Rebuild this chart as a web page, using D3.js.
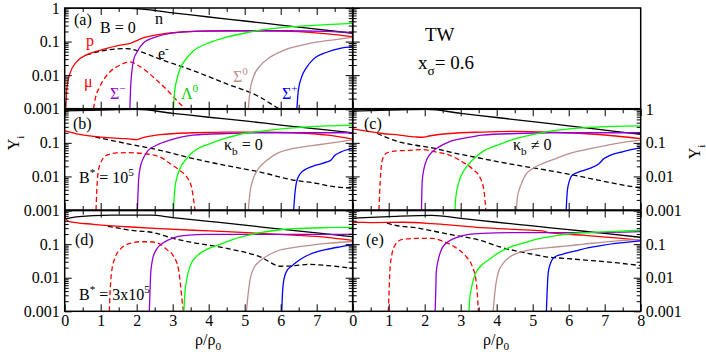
<!DOCTYPE html>
<html>
<head>
<meta charset="utf-8">
<script src="https://cdn.jsdelivr.net/npm/d3@7"></script>
<style>
  body { margin:0; background:#fff; }
  svg, svg text, svg tspan { font-family: "Liberation Serif", "DejaVu Serif", serif !important; }
  .curve { fill:none; stroke-width:1.3px; }
  .tick line { stroke:#000; stroke-width:1px; }
</style>
</head>
<body>
<script>
// tick values
var xMajor = [0,1,2,3,4,5,6,7,8];
var xMinor = [0.5,1.5,2.5,3.5,4.5,5.5,6.5,7.5];
var yMajor = [1,0.1,0.01,0.001];

// panel (a): B = 0
var a_n  = [[0,0.99],[1.8,0.98],[3,0.72],[4,0.54],[5,0.41],[6,0.31],[7,0.235],[8,0.177]];
var a_p  = [[0.03,0.001],[0.06,0.004],[0.13,0.01],[0.33,0.025],[0.6,0.04],[1.0,0.056],[1.45,0.074],[1.82,0.089],[2.2,0.13],[2.8,0.175],[3.7,0.205],[5.5,0.21],[6.5,0.197],[7.3,0.17],[8,0.14]];
var a_e  = [[0.6,0.04],[1.0,0.052],[1.4,0.06],[1.72,0.062],[2.0,0.054],[2.65,0.030],[3.57,0.0136],[4.5,0.0055],[5.43,0.0022],[5.8,0.00125],[5.95,0.001]];
var a_mu = [[0.8,0.001],[0.85,0.002],[0.98,0.0046],[1.26,0.0126],[1.54,0.02],[1.8,0.025],[2.09,0.018],[2.55,0.0072],[2.93,0.0029],[3.2,0.0014],[3.34,0.001]];
var a_sm = [[1.81,0.001],[1.83,0.004],[1.86,0.0114],[1.92,0.03],[1.99,0.045],[2.18,0.089],[2.56,0.14],[3.1,0.185],[3.6,0.2],[4.5,0.21],[6,0.21],[7.3,0.2],[8,0.185]];
var a_l  = [[3.02,0.001],[3.05,0.003],[3.11,0.007],[3.2,0.015],[3.39,0.032],[3.57,0.052],[4.04,0.095],[4.5,0.135],[5,0.18],[5.43,0.22],[6.35,0.28],[7.28,0.32],[8,0.35]];
var a_s0 = [[5.1,0.001],[5.15,0.0035],[5.24,0.0087],[5.43,0.019],[5.7,0.034],[6.07,0.054],[6.35,0.068],[6.81,0.089],[7.28,0.106],[8,0.134]];
var a_sp = [[6.45,0.001],[6.49,0.0035],[6.58,0.0087],[6.72,0.017],[6.91,0.03],[7.28,0.048],[7.65,0.063],[8,0.071]];

// panel (b): B* = 1e5, kappa_b = 0
var b_n  = [[0,0.9],[1,0.95],[2,0.99],[3,0.76],[4,0.58],[5,0.45],[6,0.34],[7,0.26],[8,0.2]];
var b_p  = [[0,0.23],[0.3,0.19],[0.8,0.155],[1.3,0.14],[1.72,0.133],[2.0,0.125],[2.15,0.14],[2.65,0.175],[3.57,0.2],[4.5,0.21],[5.5,0.21],[6.4,0.2],[7.3,0.17],[8,0.13]];
var b_e  = [[0.85,0.15],[1.72,0.095],[2.65,0.06],[3.57,0.034],[4.5,0.021],[5.43,0.0135],[6.35,0.0078],[7.0,0.0062],[7.35,0.0052],[7.6,0.0048],[8,0.0045]];
var b_mu = [[0.87,0.001],[0.89,0.0035],[0.93,0.0136],[1.03,0.03],[1.17,0.043],[1.44,0.05],[1.72,0.051],[2.18,0.048],[2.65,0.038],[2.93,0.024],[3.2,0.015],[3.39,0.0097],[3.53,0.0044],[3.62,0.001]];
var b_sm = [[2.02,0.001],[2.05,0.0069],[2.09,0.017],[2.18,0.034],[2.32,0.06],[2.55,0.085],[2.92,0.12],[3.57,0.17],[4.5,0.19],[5.5,0.2],[7,0.2],[8,0.2]];
var b_l  = [[3.02,0.001],[3.06,0.0044],[3.11,0.0087],[3.2,0.017],[3.39,0.034],[3.57,0.054],[4.04,0.095],[4.5,0.14],[4.96,0.19],[5.43,0.22],[6.35,0.28],[7.28,0.32],[8,0.34]];
var b_s0 = [[5.1,0.001],[5.15,0.0035],[5.24,0.0087],[5.38,0.017],[5.61,0.03],[5.89,0.048],[6.35,0.068],[6.81,0.081],[7.28,0.095],[8,0.122]];
var b_sp = [[6.36,0.001],[6.4,0.0035],[6.44,0.0069],[6.54,0.012],[6.72,0.017],[7.0,0.022],[7.28,0.027],[7.4,0.031],[7.5,0.042],[7.65,0.052],[8,0.068]];

// panel (c): B* = 1e5, kappa_b != 0
var c_n  = [[0,0.88],[1,0.95],[2.05,0.99],[3,0.76],[4,0.57],[5,0.43],[6,0.32],[7,0.24],[8,0.18]];
var c_p  = [[0,0.26],[0.82,0.19],[1.29,0.17],[1.75,0.15],[1.93,0.147],[2.12,0.16],[2.68,0.19],[3.6,0.21],[4.53,0.22],[5.45,0.21],[6.38,0.19],[7.3,0.16],[8,0.134]];
var c_e  = [[0.68,0.19],[1.29,0.107],[1.75,0.085],[2.3,0.068],[2.68,0.054],[3.6,0.034],[4.53,0.022],[5.45,0.015],[6.38,0.0097],[7.3,0.0061],[8,0.0045]];
var c_mu = [[0.73,0.001],[0.75,0.0035],[0.78,0.0136],[0.82,0.03],[0.92,0.048],[1.1,0.056],[1.56,0.06],[1.93,0.063],[2.3,0.054],[2.68,0.043],[3.05,0.027],[3.32,0.017],[3.55,0.0087],[3.65,0.0035],[3.7,0.001]];
var c_sm = [[1.91,0.001],[1.93,0.0069],[1.98,0.017],[2.07,0.034],[2.21,0.054],[2.4,0.076],[2.68,0.107],[3.14,0.14],[3.6,0.17],[4.53,0.19],[5.5,0.2],[8,0.2]];
var c_l  = [[2.84,0.001],[2.86,0.0022],[2.95,0.0069],[3.09,0.015],[3.32,0.03],[3.6,0.054],[4.06,0.089],[4.53,0.134],[4.99,0.176],[5.45,0.22],[6.38,0.28],[7.3,0.31],[8,0.32]];
var c_s0 = [[4.55,0.001],[4.57,0.0022],[4.67,0.0055],[4.8,0.011],[4.99,0.017],[5.27,0.024],[5.64,0.034],[6.01,0.048],[6.38,0.06],[6.84,0.076],[7.3,0.095],[8,0.12]];
var c_sp = [[5.93,0.001],[5.96,0.0035],[6.01,0.0069],[6.1,0.011],[6.29,0.0136],[6.56,0.017],[6.84,0.024],[6.98,0.034],[7.12,0.041],[7.49,0.054],[8,0.072]];

// panel (d): B* = 3x10^5, kappa_b = 0
var d_n  = [[0,0.57],[0.4,0.66],[0.8,0.71],[1.3,0.73],[2.4,0.73],[3,0.62],[4,0.48],[5,0.37],[6,0.28],[7,0.217],[8,0.167]];
var d_p  = [[0,0.65],[0.1,0.48],[0.8,0.39],[1.72,0.33],[2.65,0.29],[3.57,0.26],[4.5,0.235],[5.43,0.21],[6.35,0.185],[7.28,0.16],[8,0.13]];
var d_e  = [[1.2,0.34],[1.5,0.3],[1.72,0.27],[2.46,0.22],[3.11,0.14],[3.6,0.11],[4.5,0.075],[5.43,0.042],[6.0,0.022],[6.4,0.023],[6.8,0.025],[7.3,0.023],[8,0.019]];
var d_mu = [[1.24,0.001],[1.26,0.0036],[1.3,0.014],[1.4,0.04],[1.54,0.07],[1.81,0.105],[2.09,0.118],[2.37,0.118],[2.65,0.1],[2.83,0.07],[3.02,0.044],[3.16,0.018],[3.22,0.0056],[3.28,0.0014],[3.3,0.001]];
var d_sm = [[2.35,0.001],[2.37,0.004],[2.39,0.014],[2.44,0.035],[2.55,0.07],[2.74,0.11],[3.02,0.155],[3.3,0.18],[4,0.195],[6,0.195],[7.28,0.195],[8,0.2]];
var d_l  = [[3.31,0.001],[3.34,0.0036],[3.39,0.009],[3.48,0.022],[3.67,0.044],[3.94,0.07],[4.31,0.098],[4.68,0.14],[5.05,0.18],[5.43,0.22],[5.89,0.26],[6.35,0.29],[7.28,0.31],[8,0.315]];
var d_s0 = [[5.05,0.001],[5.1,0.0036],[5.15,0.009],[5.24,0.018],[5.43,0.032],[5.7,0.05],[5.98,0.067],[6.35,0.079],[6.81,0.092],[7.28,0.105],[8,0.12]];
var d_sp = [[6.03,0.001],[6.05,0.0036],[6.09,0.009],[6.17,0.016],[6.3,0.022],[6.54,0.035],[6.81,0.05],[7.28,0.07],[7.65,0.083],[8,0.095]];

// panel (e): B* = 3x10^5, kappa_b != 0
var e_n  = [[0,0.6],[1,0.66],[2.2,0.72],[3,0.59],[4,0.45],[5,0.35],[6,0.27],[7,0.21],[8,0.16]];
var e_p  = [[0,0.38],[0.05,0.45],[0.5,0.44],[1.4,0.45],[2.2,0.41],[3,0.35],[3.6,0.31],[4.5,0.275],[5.27,0.25],[5.45,0.22],[6.4,0.185],[7.3,0.155],[8,0.132]];
var e_e  = [[0.95,0.42],[1.2,0.36],[1.75,0.31],[2.2,0.25],[2.7,0.195],[3.6,0.125],[4.06,0.085],[4.5,0.064],[5.0,0.05],[5.45,0.041],[5.7,0.039],[6.4,0.034],[7.3,0.028],[8,0.023]];
var e_mu = [[0.99,0.001],[1.01,0.0035],[1.03,0.014],[1.08,0.044],[1.19,0.099],[1.38,0.139],[1.75,0.148],[2.21,0.148],[2.49,0.124],[2.86,0.079],[3.14,0.044],[3.32,0.022],[3.42,0.009],[3.46,0.0036],[3.49,0.001]];
var e_sm = [[2.29,0.001],[2.31,0.005],[2.32,0.014],[2.38,0.035],[2.49,0.079],[2.68,0.124],[2.95,0.166],[3.23,0.195],[3.6,0.21],[4.5,0.22],[6.5,0.22],[8,0.235]];
var e_l  = [[3.23,0.001],[3.25,0.0023],[3.31,0.0057],[3.4,0.0126],[3.55,0.022],[3.79,0.035],[4.06,0.056],[4.34,0.079],[4.71,0.105],[5.09,0.14],[5.45,0.166],[5.91,0.195],[6.38,0.22],[7.3,0.24],[8,0.26]];
var e_s0 = [[3.9,0.001],[3.93,0.0023],[3.97,0.0057],[4.04,0.014],[4.16,0.025],[4.34,0.04],[4.62,0.056],[4.99,0.07],[5.45,0.079],[5.91,0.088],[6.38,0.099],[7.3,0.124],[8,0.139]];
var e_sp = [[5.38,0.001],[5.4,0.0036],[5.43,0.014],[5.5,0.028],[5.59,0.04],[5.82,0.05],[6.19,0.063],[6.56,0.079],[6.93,0.092],[7.3,0.105],[8,0.126]];

// layout
var W = 706, H = 354;
var left = 64.7, colW = 288;
var top0 = 8, rowStep = 101.3, rowH = 100.7;
var FONT = "Liberation Serif, DejaVu Serif, serif";

var colors = {n:"#000", e:"#000", p:"#ff0000", mu:"#ff0000", sm:"rgb(148,0,211)", l:"#00ff00", s0:"rgb(188,143,143)", sp:"#0000ff"};
var dashed = {e:true, mu:true};
var order = ["n","e","mu","p","sm","l","s0","sp"];

var panels = [
  {id:"a", col:0, row:0, curves:{n:a_n,p:a_p,e:a_e,mu:a_mu,sm:a_sm,l:a_l,s0:a_s0,sp:a_sp}, yLab:[1,0.1,0.01,0.001], side:"left"},
  {id:"b", col:0, row:1, curves:{n:b_n,p:b_p,e:b_e,mu:b_mu,sm:b_sm,l:b_l,s0:b_s0,sp:b_sp}, yLab:[0.1,0.01,0.001], side:"left"},
  {id:"c", col:1, row:1, curves:{n:c_n,p:c_p,e:c_e,mu:c_mu,sm:c_sm,l:c_l,s0:c_s0,sp:c_sp}, yLab:[1,0.1,0.01,0.001], side:"right"},
  {id:"d", col:0, row:2, curves:{n:d_n,p:d_p,e:d_e,mu:d_mu,sm:d_sm,l:d_l,s0:d_s0,sp:d_sp}, yLab:[0.1,0.01,0.001], side:"left", xLab:[0,1,2,3,4,5,6,7]},
  {id:"e", col:1, row:2, curves:{n:e_n,p:e_p,e:e_e,mu:e_mu,sm:e_sm,l:e_l,s0:e_s0,sp:e_sp}, yLab:[0.1,0.01,0.001], side:"right", xLab:[0,1,2,3,4,5,6,7,8]}
];

var yMinor = [];
[0.001,0.01,0.1].forEach(function(d){ for (var m=2;m<10;m++) yMinor.push(d*m); });

var svg = d3.select("body").append("svg").attr("width",W).attr("height",H).attr("font-family",FONT);

function xScale(col){ return d3.scaleLinear().domain([0,8]).range([left+col*colW, left+(col+1)*colW]); }
function yScale(row){ var t=top0+row*rowStep; return d3.scaleLog().domain([0.001,1]).range([t+rowH, t]); }

function noDomain(g){ g.select(".domain").remove(); }
function styleText(g){ g.attr("font-family",FONT).attr("font-size",16); g.selectAll("text").attr("fill","#000"); }

function label(x, y, parts, color, size){
  size = size || 16;
  var t = svg.append("text").attr("x",x).attr("y",y).attr("fill",color||"#000")
    .attr("font-family",FONT).attr("font-size",size);
  var cur = 0;
  parts.forEach(function(p){
    var off = p[1]==="sup" ? -0.42*size : (p[1]==="sub" ? 0.3*size : 0);
    t.append("tspan").attr("dy", off-cur).attr("font-size", p[1] ? size*0.7 : size).text(p[0]);
    cur = off;
  });
  return t;
}

panels.forEach(function(P){
  var x = xScale(P.col), y = yScale(P.row);
  var x0 = x.range()[0], x1 = x.range()[1], yb = y.range()[0], yt = y.range()[1];
  var g = svg.append("g");

  g.append("clipPath").attr("id","clip"+P.id)
    .append("rect").attr("x",x0).attr("y",yt).attr("width",x1-x0).attr("height",yb-yt);

  var line = d3.line().x(function(d){return x(d[0]);}).y(function(d){return y(d[1]);}).curve(d3.curveMonotoneX);
  var cg = g.append("g").attr("clip-path","url(#clip"+P.id+")");
  order.forEach(function(k){
    cg.append("path").datum(P.curves[k]).attr("class","curve")
      .attr("stroke",colors[k]).attr("stroke-dasharray", dashed[k] ? "5,3" : null)
      .attr("d",line);
  });

  // ticks, all pointing inward
  g.append("g").attr("transform","translate(0,"+yb+")").call(d3.axisBottom(x).tickValues(xMajor).tickSize(-7).tickFormat("")).call(noDomain);
  g.append("g").attr("transform","translate(0,"+yb+")").call(d3.axisBottom(x).tickValues(xMinor).tickSize(-4).tickFormat("")).call(noDomain);
  g.append("g").attr("transform","translate(0,"+yt+")").call(d3.axisTop(x).tickValues(xMajor).tickSize(-7).tickFormat("")).call(noDomain);
  g.append("g").attr("transform","translate(0,"+yt+")").call(d3.axisTop(x).tickValues(xMinor).tickSize(-4).tickFormat("")).call(noDomain);
  g.append("g").attr("transform","translate("+x0+",0)").call(d3.axisLeft(y).tickValues(yMajor).tickSize(-7).tickFormat("")).call(noDomain);
  g.append("g").attr("transform","translate("+x0+",0)").call(d3.axisLeft(y).tickValues(yMinor).tickSize(-4).tickFormat("")).call(noDomain);
  g.append("g").attr("transform","translate("+x1+",0)").call(d3.axisRight(y).tickValues(yMajor).tickSize(-7).tickFormat("")).call(noDomain);
  g.append("g").attr("transform","translate("+x1+",0)").call(d3.axisRight(y).tickValues(yMinor).tickSize(-4).tickFormat("")).call(noDomain);

  // tick labels
  if (P.side === "left") {
    g.append("g").attr("transform","translate("+x0+",0)")
      .call(d3.axisLeft(y).tickValues(P.yLab).tickSize(0).tickPadding(5).tickFormat(d3.format("")))
      .call(noDomain).call(styleText);
  } else {
    g.append("g").attr("transform","translate("+x1+",0)")
      .call(d3.axisRight(y).tickValues(P.yLab).tickSize(0).tickPadding(5).tickFormat(d3.format("")))
      .call(noDomain).call(styleText);
  }
  if (P.xLab) {
    g.append("g").attr("transform","translate(0,"+yb+")")
      .call(d3.axisBottom(x).tickValues(P.xLab).tickSize(0).tickPadding(3.5).tickFormat(d3.format("d")))
      .call(noDomain).call(styleText);
  }

  g.append("rect").attr("x",x0).attr("y",yt).attr("width",x1-x0).attr("height",yb-yt)
    .attr("fill","none").attr("stroke","#000").attr("stroke-width",1.5);
});

// empty box with the model name
(function(){
  var x = xScale(1), y = yScale(0);
  var x0 = x.range()[0], x1 = x.range()[1], yb = y.range()[0], yt = y.range()[1];
  svg.append("g").attr("transform","translate("+x0+",0)").call(d3.axisRight(y).tickValues(yMajor).tickSize(7).tickFormat("")).call(noDomain);
  svg.append("g").attr("transform","translate("+x0+",0)").call(d3.axisRight(y).tickValues(yMinor).tickSize(4).tickFormat("")).call(noDomain);
  svg.append("rect").attr("x",x0).attr("y",yt).attr("width",x1-x0).attr("height",yb-yt)
    .attr("fill","none").attr("stroke","#000").attr("stroke-width",1.5);
})();

// panel texts
label(74,25,[["(a)"]]);
label(100,33,[["B = 0"]]);
label(155,24,[["n"]]);
label(86,46,[["p"]],"#ff0000");
label(158,59,[["e"],["-","sup"]]);
label(84,87,[["\u03bc"]],"#ff0000");
label(110,99,[["\u03a3"],["\u2212","sup"]],"rgb(148,0,211)");
label(181,99,[["\u039b"],["0","sup"]],"#00d000");
label(233,82,[["\u03a3"],["0","sup"]],"rgb(188,143,143)");
label(282,99,[["\u03a3"],["+","sup"]],"#0000ff");

label(425,41,[["TW"]],"#000",19);
label(418,69,[["x"],["\u03c3","sub"],["= 0.6"]],"#000",19);

label(73,129,[["(b)"]]);
label(224,150,[["\u03ba"],["b","sub"],[" = 0"]]);
label(79,183,[["B"],["*","sup"],[" = 10"],["5","sup"]]);

label(364,129,[["(c)"]]);
label(513,150,[["\u03ba"],["b","sub"],[" \u2260 0"]]);

label(75,245,[["(d)"]]);
label(79,300,[["B"],["*","sup"],[" = 3x10"],["5","sup"]]);

label(366,245,[["(e)"]]);

// axis titles
label(195,345,[["\u03c1/\u03c1"],["0","sub"]]);
label(483,345,[["\u03c1/\u03c1"],["0","sub"]]);
label(0,0,[["Y"],["i","sub"]]).attr("text-anchor","middle").attr("transform","translate(19,143) rotate(-90)");
label(0,0,[["Y"],["i","sub"]]).attr("text-anchor","middle").attr("transform","translate(700,152) rotate(-90)");
</script>
</body>
</html>
